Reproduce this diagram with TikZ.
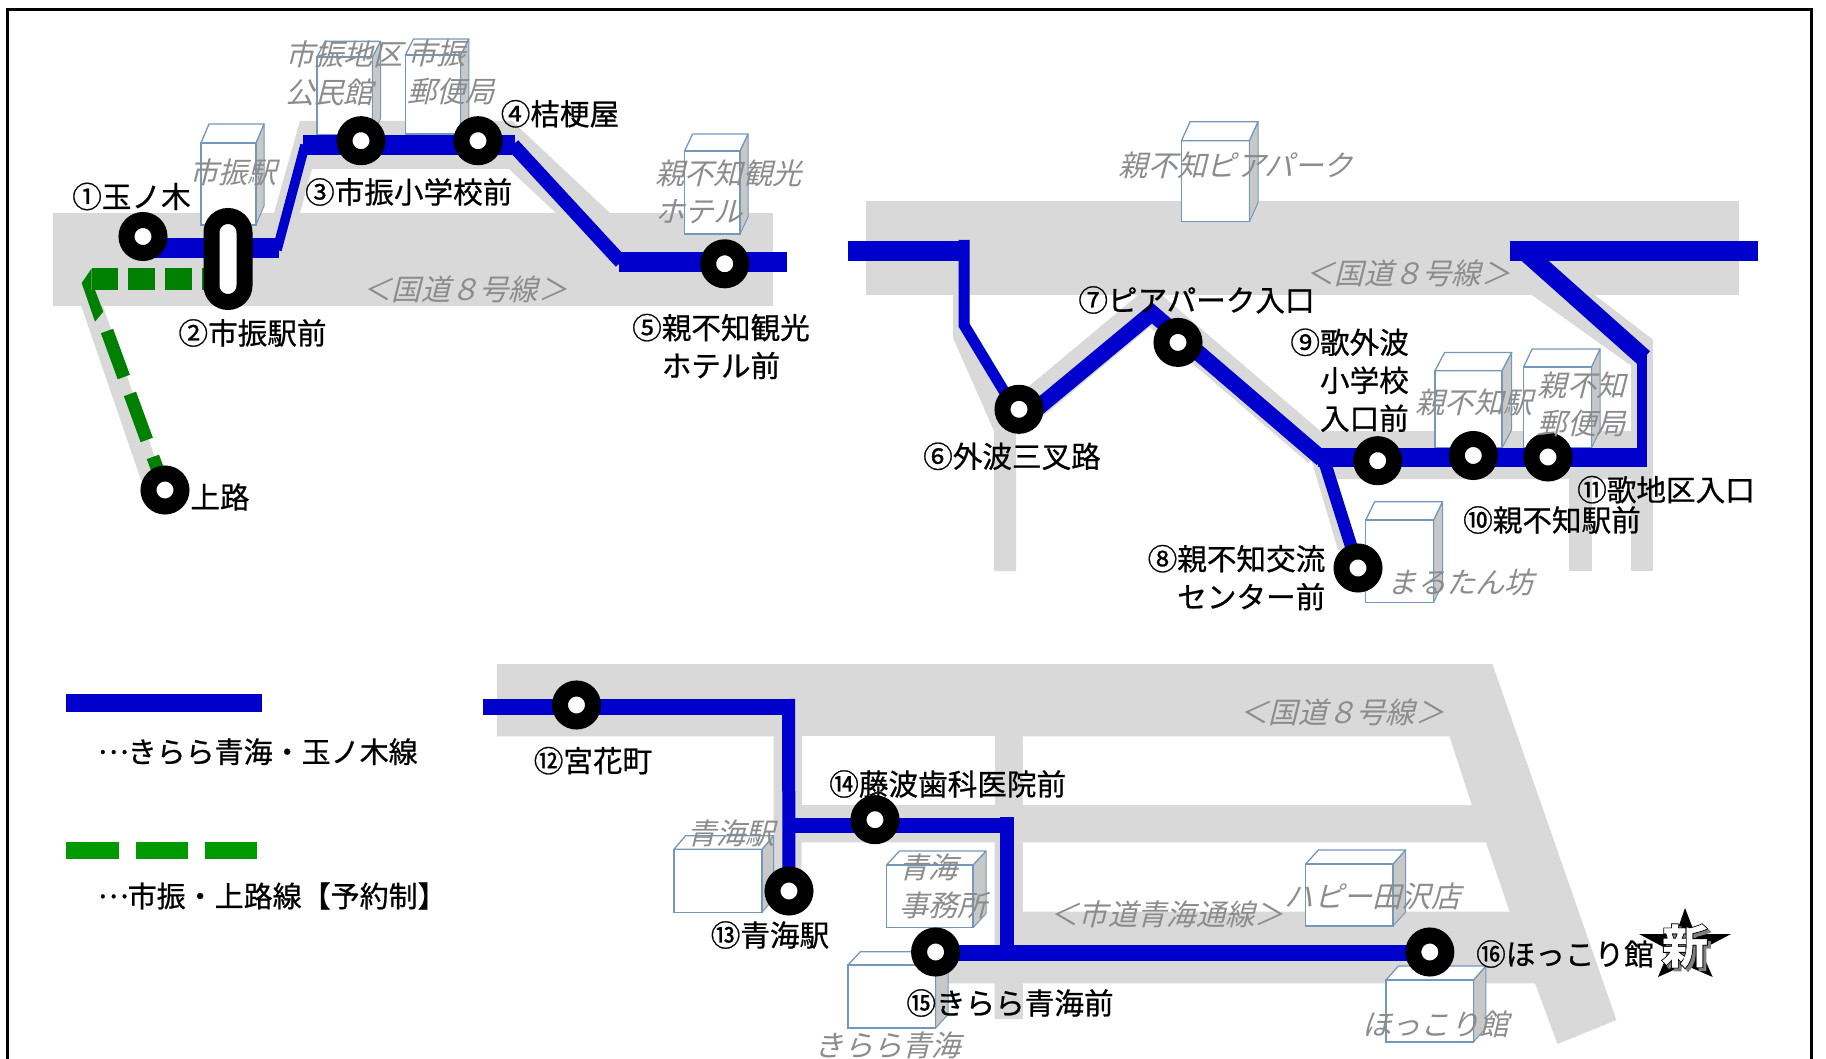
\documentclass[tikz,border=0pt]{standalone}
\usepackage{fontspec}
\setmainfont[FakeBold=0.7]{Noto Sans CJK JP}
\newfontfamily\grayjp[FakeSlant=0.25]{Noto Sans CJK JP}
\newfontfamily\newblack[FakeBold=5]{Noto Sans CJK JP Bold}
\newfontfamily\newwhite[FakeBold=1.2]{Noto Sans CJK JP Bold}
\definecolor{road}{HTML}{D9D9D9}
\definecolor{routeblue}{HTML}{0000CC}
\definecolor{routegreen}{HTML}{008000}
\definecolor{legendgreen}{HTML}{009900}
\definecolor{bedge}{HTML}{7398BC}
\definecolor{bside}{HTML}{C8C8C8}
\definecolor{lblgray}{HTML}{8C8C8C}
\pgfdeclarelayer{ground}
\pgfdeclarelayer{routes}
\pgfsetlayers{ground,routes,main}
\tikzset{
  roadfill/.style={fill=road,draw=none},
  bluerun/.style={draw=routeblue,line width=#1,line join=miter},
  stn/.style={circle,draw=black,fill=white,line width=16pt,minimum size=33pt,inner sep=0pt},
  stnlong/.style={rectangle,rounded corners=16.5pt,draw=black,fill=white,line width=16pt,minimum width=33pt,minimum height=86pt,inner sep=0pt},
  lbl/.style={inner sep=0pt,text=black,font=\fontsize{29.6}{38}\selectfont},
  legendlbl/.style={inner sep=0pt,text=black,anchor=west,font=\fontsize{29}{38}\selectfont},
  place/.style={inner sep=0pt,text=lblgray,xshift=-2pt,font=\grayjp\fontsize{29.3}{38}\selectfont},
}
\newcommand{\dotsmid}{\raisebox{9pt}{\makebox[29pt][c]{…}}}
\newcommand{\bldg}[6]{% x0, y front top, x1, y bottom, x back, y back top
  \pgfmathsetmacro{\bdx}{#5-#3}
  \pgfmathsetmacro{\bdy}{#2-#6}
  \fill[white] (#1,#2) rectangle (#3,#4);
  \filldraw[fill=bside,draw=bedge,line width=1pt,line join=round] (#3,#2) -- (#5,#6) -- (#5,#4-\bdy) -- (#3,#4) -- cycle;
  \filldraw[fill=white,draw=bedge,line width=1.3pt,line join=round] (#1,#2) -- (#1+\bdx,#6) -- (#5,#6) -- (#3,#2) -- cycle;
  \draw[bedge,line width=1.3pt] (#1,#2) rectangle (#3,#4);
}
\begin{document}
\begin{tikzpicture}[x=1pt,y=-1pt]
\useasboundingbox (0,0) rectangle (1826,1059);
\begin{pgfonlayer}{ground}
\fill[white] (0,0) rectangle (1826,1059);
% frame
\draw[black,line width=3pt] (7.5,1059) -- (7.5,10) -- (1811,10) -- (1811,1059);

% roads, top left
\fill[roadfill] (52.6,213) rectangle (773,306);
\fill[roadfill] (274,213) -- (300,121) -- (512,121) -- (610,213) -- (556,213) -- (509,169) -- (312,169) -- (300,213) -- cycle;
\fill[roadfill] (81.3,306) -- (103,306) -- (162.6,480) -- (141,480) -- cycle;
% roads, top right
\fill[roadfill] (865.8,200.7) rectangle (1739.3,295);
\fill[roadfill] (953,295) -- (953,338) -- (994,431) -- (994,571) -- (1016,571) -- (1016,420) -- (969,330) -- (969,295) -- cycle;
\draw[road,line width=32pt,line join=miter] (1016,418) -- (1150,306) -- (1319,451);
\fill[roadfill] (1312,462) -- (1322,431) -- (1653,431) -- (1653,479) -- (1334,479) -- (1352,550) -- (1338,550) -- cycle;
\fill[roadfill] (1569.4,479) rectangle (1591.5,570.7);
\fill[roadfill] (1631,479) rectangle (1653,570.7);
\fill[roadfill] (1531.8,295) -- (1631,365.5) -- (1631,431) -- (1653,431) -- (1653,339.7) -- (1594.7,295) -- cycle;
% roads, bottom
\fill[roadfill] (496.8,664) -- (1492.4,664) -- (1616.4,1020) -- (1557.4,1044) -- (1535,983.3) -- (1022.8,983.3) -- (1022.8,1019) -- (994.5,1019) -- (994.5,983.3) -- (935,983.3) -- (935,945) -- (994.5,945) -- (994.5,842.3) -- (801.6,842.3) -- (801.6,880) -- (773.6,880) -- (773.6,736.3) -- (496.8,736.3) -- cycle;
\fill[white] (801.6,736.3) rectangle (994.5,805);
\fill[white] (1022.8,736.3) -- (1449.3,736.3) -- (1471.7,805) -- (1022.8,805) -- cycle;
\fill[white] (1022.8,842.3) -- (1485.9,842.3) -- (1509.5,911.7) -- (1022.8,911.7) -- cycle;

% buildings
\bldg{201}{143}{256}{225}{264}{124}
\bldg{317}{57}{372.4}{134.5}{380.5}{41.4}
\bldg{405.4}{55}{460.7}{134}{468.8}{39}
\bldg{684.6}{151}{740}{234}{748}{134}
\bldg{1181.5}{140.7}{1249.4}{221.7}{1258}{121.7}
\bldg{1435}{370.7}{1502}{448}{1511.7}{352.4}
\bldg{1523.6}{367}{1591.5}{448}{1600}{349}
\bldg{1365.8}{520}{1433.7}{602.4}{1442.5}{501.7}
\bldg{674}{849.3}{762}{912.3}{773.6}{835.7}
\bldg{886.5}{865}{973}{927.7}{986}{851}
\bldg{848}{965}{935.6}{1028}{948}{951.7}
\bldg{1305.7}{864}{1393}{926}{1405.6}{850}
\bldg{1386}{980}{1473.5}{1042}{1485.9}{966}
\end{pgfonlayer}

% stations
\node[stn] (s1) at (143,236.5) {};
\node[stnlong] (s2) at (228,259) {};
\node[stn] (s3) at (361,140.7) {};
\node[stn] (s4) at (478,140.7) {};
\node[stn] (s5) at (724.7,263.8) {};
\node[stn] (sj) at (165,490) {};
\node[stn] (s6) at (1019,409.3) {};
\node[stn] (s7) at (1178,342.4) {};
\node[stn] (s8) at (1358,568) {};
\node[stn] (s9) at (1377.7,460.7) {};
\node[stn] (s10) at (1473.3,455.5) {};
\node[stn] (s11) at (1548,457) {};
\node[stn] (s12) at (576.5,705) {};
\node[stn] (s13) at (789,891) {};
\node[stn] (s14) at (875,819.7) {};
\node[stn] (s15) at (935.6,952) {};
\node[stn] (s16) at (1429.8,952) {};

% route coordinates
\coordinate (a1) at (279,248.5);
\coordinate (a2) at (277,250);
\coordinate (a3) at (305,145);
\coordinate (a4) at (303,145);
\coordinate (a5) at (515,145);
\coordinate (a6) at (513,145);
\coordinate (a7) at (621,262);
\coordinate (a8) at (619,262);
\coordinate (a9) at (787,262);
\coordinate (b1) at (847.5,251);
\coordinate (b2) at (969,251);
\coordinate (b3) at (964,240);
\coordinate (b4) at (964,325);
\coordinate (b5) at (1022,421);
\coordinate (b6) at (1152,313);
\coordinate (b7) at (1322,459);
\coordinate (b8) at (1318,457.5);
\coordinate (b9) at (1647,457.5);
\coordinate (b10) at (1642,467);
\coordinate (b11) at (1642,352);
\coordinate (b12) at (1524,251);
\coordinate (b13) at (1644,358);
\coordinate (b14) at (1510.4,251);
\coordinate (b15) at (1758.2,251);
\coordinate (b16) at (1324,460);
\coordinate (c1) at (482.8,707);
\coordinate (c2) at (795,707);
\coordinate (c3) at (788.5,699);
\coordinate (c4) at (795,825.5);
\coordinate (c5) at (1014,825.5);
\coordinate (c6) at (1007.2,817);
\coordinate (c7) at (1007.2,953);
\coordinate (g1) at (91.7,279);
\coordinate (g2) at (107,331);

\begin{pgfonlayer}{routes}
% green route
\fill[routegreen] (91.7,268.3) -- (81.7,283) -- (95,321.7) -- (103.3,311.7) -- (95,290) -- (91.7,290) -- cycle;
\draw[routegreen,line width=21.7pt,dash pattern=on 26.7pt off 10pt] (g1) -- (s2.center |- g1);
\draw[routegreen,line width=13pt,dash pattern=on 49pt off 18pt] (g2) -- (sj.center);

% blue route
\draw[bluerun=20pt] (s1.center |- a1) -- (a1);
\draw[bluerun=9.5pt] (a2) -- (a3);
\draw[bluerun=20pt] (a4) -- (a5);
\draw[bluerun=14pt] (a6) -- (a7);
\draw[bluerun=20pt] (a8) -- (a9);
\draw[bluerun=19.6pt] (b1) -- (b2);
\draw[bluerun=11pt] (b3) -- (b4) -- (b5);
\draw[bluerun=16pt] (b5) -- (b6) -- (b7);
\draw[bluerun=19pt] (b8) -- (b9);
\draw[bluerun=9.7pt] (b10) -- (b11);
\draw[bluerun=18pt] (b12) -- (b13);
\draw[bluerun=19.6pt] (b14) -- (b15);
\draw[bluerun=12.5pt] (b16) -- (s8.center);
\draw[bluerun=15.7pt] (c1) -- (c2);
\draw[bluerun=13pt] (c3) -- (s13.center);
\draw[bluerun=15pt] (c4) -- (c5);
\draw[bluerun=13.8pt] (c6) -- (c7);
\draw[bluerun=16pt] (s15.center |- c7) -- (s16.center |- c7);
\end{pgfonlayer}

% legend
\fill[routeblue] (66.3,694.3) rectangle (262,711.7);
\fill[legendgreen] (66.3,841.7) rectangle (118.6,859);
\fill[legendgreen] (135.8,841.7) rectangle (188,859);
\fill[legendgreen] (204.7,841.7) rectangle (257,859);
\node[legendlbl] (lg1) at (98.5,751.7) {\dotsmid きらら青海・玉ノ木線};
\node[legendlbl] (lg2) at (98.5,896) {\dotsmid 市振・上路線【予約制】};

% place labels
\node[place,align=left,anchor=west] (p1) at (287,73.5) {市振地区\\公民館};
\node[place,align=left,anchor=west] (p2) at (409,72.4) {市振\\郵便局};
\node[place] (p3) at (235,172.4) {市振駅};
\node[place,align=left,anchor=west] (p4) at (657,191.7) {親不知観光\\ホテル};
\node[place] (p5) at (467,289) {＜国道８号線＞};
\node[place] (p6) at (1237.8,165.5) {親不知ピアパーク};
\node[place] (p7) at (1410,273.4) {＜国道８号線＞};
\node[place] (p8) at (1476,402.4) {親不知駅};
\node[place,align=center] (p9) at (1583.7,404.7) {親不知\\郵便局};
\node[place] (p10) at (1463,582) {まるたん坊};
\node[place] (p11) at (733,833.3) {青海駅};
\node[place,align=left,anchor=west] (p12) at (901,886) {青海\\事務所};
\node[place] (p13) at (890,1045) {きらら青海};
\node[place] (p14) at (1168.7,914) {＜市道青海通線＞};
\node[place] (p15) at (1374.6,896) {ハピー田沢店};
\node[place] (p16) at (1437.4,1024) {ほっこり館};
\node[place] (p17) at (1344,712) {＜国道８号線＞};

% stop labels
\node[lbl] (t1) at (131.5,196.5) {①玉ノ木};
\node[lbl] (t2) at (252.5,333) {②市振駅前};
\node[lbl] (t3) at (408.7,192) {③市振小学校前};
\node[lbl] (t4) at (560,113.8) {④桔梗屋};
\node[lbl,align=center] (t5) at (721,346.5) {⑤親不知観光\\ホテル前};
\node[lbl] (tj) at (220,497) {上路};
\node[lbl] (t6) at (1012,456.3) {⑥外波三叉路};
\node[lbl] (t7) at (1196.5,300) {⑦ピアパーク入口};
\node[lbl,align=right,anchor=east] (t9) at (1409,380.2) {⑨歌外波\\小学校\\入口前};
\node[lbl] (t10) at (1552,520) {⑩親不知駅前};
\node[lbl] (t11) at (1666,489.7) {⑪歌地区入口};
\node[lbl,align=right,anchor=east] (t8) at (1325.5,577.6) {⑧親不知交流\\センター前};
\node[lbl] (t12) at (593,760.7) {⑫宮花町};
\node[lbl] (t13) at (770,935) {⑬青海駅};
\node[lbl] (t14) at (947.7,784) {⑭藤波歯科医院前};
\node[lbl] (t15) at (1010,1003) {⑮きらら青海前};
\node[lbl] (t16) at (1565,954) {⑯ほっこり館};

% new mark
\fill[black] (1685,908) -- (1695,934) -- (1731,934) -- (1700.7,950) -- (1712.7,977) -- (1685,965) -- (1658,977) -- (1669,950) -- (1639,934) -- (1676,934) -- cycle;
\node[inner sep=0pt,text=gray,font=\newblack\fontsize{46}{46}\selectfont] (n1) at (1688,949) {新};
\node[inner sep=0pt,text=black,font=\newblack\fontsize{46}{46}\selectfont] (n2) at (1685,946) {新};
\node[inner sep=0pt,text=white,font=\newwhite\fontsize{46}{46}\selectfont] (n3) at (1685,946) {新};
\end{tikzpicture}
\end{document}
